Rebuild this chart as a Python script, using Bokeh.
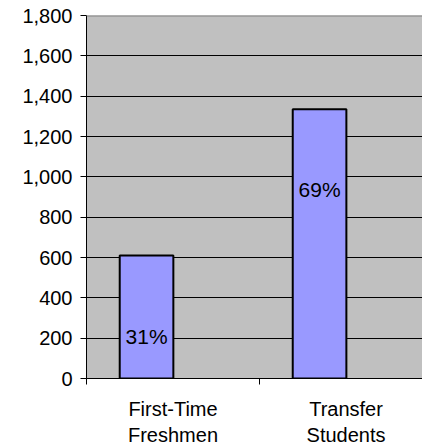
from bokeh.plotting import figure
from bokeh.models import Range1d, FixedTicker, NumeralTickFormatter, Span, ColumnDataSource
from bokeh.embed import file_html
from bokeh.resources import INLINE
from bokeh.core.properties import value

# ---- data ----
categories = ["First-Time\nFreshmen", "Transfer\nStudents"]
students = [610, 1335]
shares = ["31%", "69%"]
y_ticks = [0, 200, 400, 600, 800, 1000, 1200, 1400, 1600, 1800]

# ---- style constants ----
FONT = "Liberation Sans"
bar_offset = -0.153
bar_width = 0.31
label_drop = 400
x_end = 1.942

centers = [i + 0.5 for i in range(len(categories))]
bar_x = [c + bar_offset for c in centers]
label_y = [v - label_drop for v in students]

src = ColumnDataSource(dict(x=bar_x, top=students, ly=label_y, txt=shares))

p = figure(width=422, height=448, output_backend="svg", toolbar_location=None,
           x_range=Range1d(0, x_end), y_range=Range1d(0, y_ticks[-1]),
           min_border_left=86, min_border_top=15, min_border_bottom=69, min_border_right=0)
p.background_fill_color = "#C0C0C0"
p.border_fill_color = "white"
p.outline_line_color = None

p.vbar(x="x", top="top", width=bar_width, bottom=0, source=src,
       fill_color="#9999FF", line_color="black", line_width=2)
p.text(x="x", y="ly", text="txt", source=src, text_align="center", text_baseline="middle",
       text_font=value(FONT), text_font_size="21px", text_color="black")

p.add_layout(Span(location=y_ticks[-1], dimension="width", line_color="#808080", line_width=2))

# grid
p.xgrid.grid_line_color = None
p.ygrid.ticker = FixedTicker(ticks=y_ticks)
p.ygrid.grid_line_color = "black"
p.ygrid.grid_line_width = 1

# y axis
ya = p.yaxis[0]
ya.ticker = FixedTicker(ticks=y_ticks)
ya.formatter = NumeralTickFormatter(format="0,0")
ya.major_label_text_font = FONT
ya.major_label_text_font_size = "20px"
ya.major_label_text_color = "black"
ya.major_tick_out = 6
ya.major_tick_in = 0
ya.minor_tick_line_color = None
ya.axis_line_color = "black"
ya.major_tick_line_color = "black"
ya.major_label_standoff = 8

# x axis
xa = p.xaxis[0]
xa.ticker = FixedTicker(ticks=centers, minor_ticks=[0, 1, 2])
xa.major_label_overrides = {c: lab for c, lab in zip(centers, categories)}
xa.major_label_text_font = FONT
xa.major_label_text_font_size = "20px"
xa.major_label_text_color = "black"
xa.major_tick_line_color = None
xa.major_tick_out = 0
xa.major_tick_in = 0
xa.minor_tick_line_color = "black"
xa.minor_tick_out = 6
xa.minor_tick_in = 0
xa.axis_line_color = "black"
xa.major_label_standoff = 13

open("out.html", "w").write(file_html(p, INLINE))
